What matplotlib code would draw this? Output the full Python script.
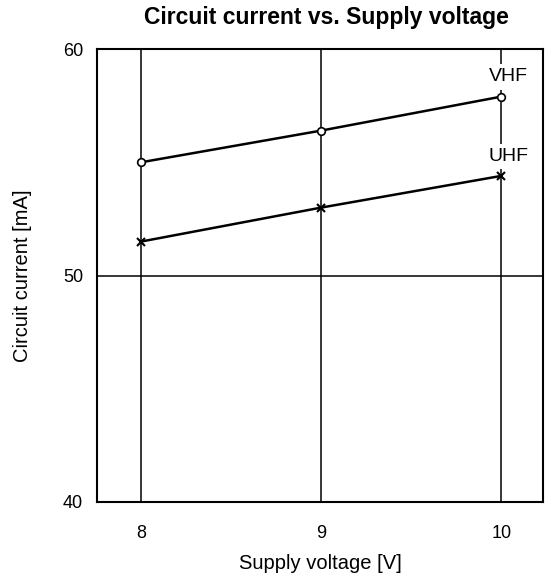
import matplotlib
matplotlib.use("Agg")
import matplotlib.pyplot as plt

plt.rcParams['font.family'] = ['Liberation Sans', 'DejaVu Sans']

voltage = [8, 9, 10]
vhf = [55.0, 56.4, 57.9]
uhf = [51.5, 53.0, 54.4]
xticks = [8, 9, 10]
yticks = [40, 50, 60]

fig = plt.figure(figsize=(5.45, 5.77), dpi=100)
ax = fig.add_axes([0.178, 0.130, 0.818, 0.785])
ax.set_xlim(7.755, 10.23)
ax.set_ylim(40, 60)

for x in xticks:
    ax.axvline(x, color='black', lw=1.1, zorder=1)
ax.axhline(50, color='black', lw=1.1, zorder=1)

ax.plot(voltage, vhf, color='black', lw=1.8, marker='o', ms=5.5,
        mfc='white', mec='black', mew=1.2, zorder=3)
ax.plot(voltage, uhf, color='black', lw=1.8, marker='x', ms=6,
        mec='black', mew=1.5, zorder=3)

for lab, ser in (('VHF', vhf), ('UHF', uhf)):
    ax.annotate(lab, xy=(voltage[-1], ser[-1]), xytext=(5, 8),
                textcoords='offset points', ha='center', va='bottom', fontsize=14,
                bbox=dict(facecolor='white', edgecolor='none', pad=3), zorder=4)

ax.set_xticks(xticks)
ax.set_yticks(yticks)
ax.tick_params(length=0, labelsize=13)
ax.tick_params(axis='x', pad=16.5)
ax.tick_params(axis='y', pad=10)
for s in ax.spines.values():
    s.set_linewidth(1.5)

ax.set_xlabel('Supply voltage [V]', fontsize=14.5, labelpad=9)
ax.set_ylabel('Circuit current [mA]', fontsize=14.5, labelpad=22)
fig.text(0.599, 0.970, 'Circuit current vs. Supply voltage', fontsize=16.5,
         fontweight='bold', ha='center', va='center')

fig.savefig('out.png', dpi=100)
